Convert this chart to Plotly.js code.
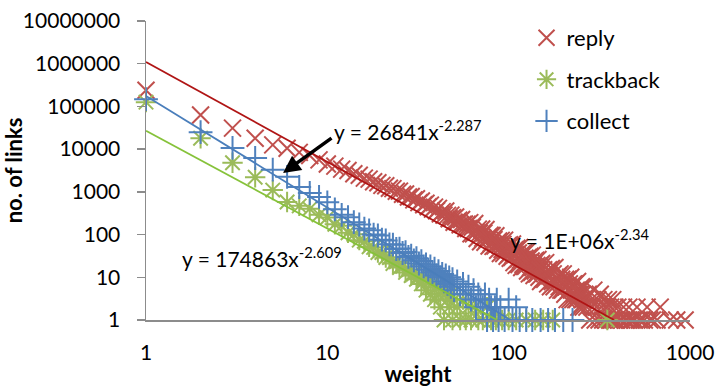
<!DOCTYPE html>
<html><head><meta charset="utf-8">
<script src="https://cdn.plot.ly/plotly-3.0.1.min.js"></script>
<style>html,body{margin:0;padding:0;background:#fff}#chart{width:720px;height:387px}</style>
</head><body><div id="chart"></div>
<script>
// ---- data ----
const seriesNames = ['reply', 'trackback', 'collect'];

const reply_w = [1,2,3,4,5,6,7,8,9,10,11,12,13,14,15,16,17,18,19,20,21,22,23,24,25,26,27,28,29,30,31,32,33,34,35,36,37,38,39,40,
  41,42,43,44,45,46,47,48,49,50,51,52,53,54,55,56,57,58,59,60,
  61,62,63,64,65,66,67,68,69,70,71,72,73,74,75,76,77,78,79,80,81,82,83,84,85,86,87,88,89,90,91,92,93,94,95,96,97,98,99,100,
  101,102,103,104,105,106,107,108,109,110,111,112,113,114,115,116,117,118,119,120,121,122,123,124,125,126,127,128,129,130,
  131,132,133,134,135,136,137,138,139,140,141,142,143,144,145,146,147,148,149,150,
  152,154,156,158,160,162,164,166,168,170,172,174,176,178,180,182,184,186,188,190,192,194,196,198,200,
  202,204,206,208,210,212,214,216,218,220,222,224,226,228,230,232,234,236,238,240,242,244,246,248,250,252,254,256,258,260,
  265,270,275,280,285,290,295,300,305,310,315,320,325,330,335,340,345,350,355,360,365,370,375,380,385,390,400,410,420,
  430,440,450,460,470,480,495,510,525,540,560,580,600,620,658,685,778,845,940];
const reply_n = [240000,63000,31000,18000,12600,10500,8400,7100,5600,4500,4000,3400,3150,2650,2450,2100,1990,1720,1640,1420,1390,1210,1190,1030,1040,880,890,760,780,650,690,560,610,500,540,450,490,395,440,360,
  411,305,345,285,356,281,234,285,249,195,259,200,218,169,226,172,176,139,175,139,
  190,105,149,104,181,114,81,134,108,68,135,82,108,66,132,77,86,54,96,62,95,53,76,54,94,60,43,71,58,36,73,45,59,36,74,42,48,31,55,34,
  58,28,44,29,60,34,22,44,34,19,48,26,37,20,50,25,30,17,36,20,37,18,28,18,39,22,14,29,22,12,
  31,17,24,13,33,17,20,11,24,14,25,12,19,12,26,15,10,19,15,8,
  21,9,15,9,22,11,7,15,11,6,16,8,12,6,17,8,9,5,11,6,12,5,9,5,12,
  6,4,9,6,3,9,5,7,3,10,5,6,3,7,4,7,3,5,3,8,4,2,5,4,2,6,3,4,2,6,
  3,2,4,1,3,2,5,1,2,3,1,4,2,1,3,2,1,2,3,1,2,1,3,1,2,1,2,1,1,
  2,1,1,2,1,1,1,2,1,1,1,2,1,1,1,2,1,1,1];

const trackback_w = [1,2,3,4,5,6,7,8,9,10,11,12,13,14,15,16,17,18,19,20,21,22,23,24,25,26,27,28,29,30,31,32,33,34,35,36,37,38,39,40,
  41,42,43,44,45,46,47,48,49,50,52,54,56,58,60,62,65,68,72,76,80,85,92,100,110,125,140,155,175,350];
const trackback_n = [126000,18000,4800,2200,1100,580,470,400,290,250,175,160,110,102,74,70,52,50,38,38,29,29,21,23,17,18,13,15,11,12,9,11,7,9,5,8,4,7,3,6,
  4,2,5,1,4,3,2,4,1,3,2,1,3,1,2,1,2,1,1,2,1,1,1,1,1,1,1,1,1,1];

const collect_w = [1,2,3,4,5,6,7,8,9,10,11,12,13,14,15,16,17,18,19,20,21,22,23,24,25,26,27,28,29,30,31,32,33,34,35,36,37,38,39,40,
  41,42,43,44,45,46,47,48,49,50,52,54,56,58,60,62,64,66,68,70,72,74,76,78,80,82,84,86,88,90,95,100,105,110,115,125,135,150,165,180,200,225];
const collect_n = [148000,25000,10700,6200,3300,2250,1300,940,760,570,390,290,255,195,172,138,126,100,95,76,73,59,58,46,47,37,39,30,32,25,28,21,24,18,20,15,18,13,16,11,
  14,10,12,8,11,7,10,6,9,5,8,4,7,4,6,3,5,2,4,3,2,4,1,3,2,1,2,3,1,2,1,3,1,2,1,1,1,1,1,1,1,1];

// power-law trend lines y = a * x^b (as printed on / drawn in the chart)
const trendCoef = [1.1e6, 26841, 174863];   // reply, trackback, collect
const trendExp  = [-2.34, -2.287, -2.609];
const trendLabels = ['y = 1E+06x<sup>-2.34</sup>', 'y = 174863x<sup>-2.609</sup>', 'y = 26841x<sup>-2.287</sup>'];

const xTickVals = [1, 10, 100, 1000];
const xTickText = ['1', '10', '100', '1000'];
const yTickVals = [1, 10, 100, 1000, 10000, 100000, 1000000, 10000000];
const yTickText = ['1', '10', '100', '1000', '10000', '100000', '1000000', '10000000'];

// ---- styling ----
const markerColors = ['#C0504D', '#9BBB59', '#4F81BD'];
const lineColors = ['#B01515', '#86C23A', '#4A7EBB'];
const symbols = ['x-thin-open', 'asterisk-open', 'cross-thin-open'];
const sizes = [17, 17, 17];
const xs = [reply_w, trackback_w, collect_w];
const ys = [reply_n, trackback_n, collect_n];

const traces = [];
for (let i = 0; i < 3; i++) {
  traces.push({
    type: 'scatter', mode: 'markers', name: seriesNames[i], x: xs[i], y: ys[i],
    legendgroup: 'g' + i, cliponaxis: false, hoverinfo: 'x+y',
    marker: { symbol: symbols[i], size: sizes[i], color: markerColors[i], line: { color: markerColors[i], width: 2 } }
  });
}
for (let i = 0; i < 3; i++) {
  const a = trendCoef[i], b = trendExp[i];
  const xEnd = Math.pow(a, -1 / b);
  const lx = [1, xEnd];
  const ly = lx.map(v => a * Math.pow(v, b));
  traces.push({
    type: 'scatter', mode: 'lines', x: lx, y: ly, showlegend: false, hoverinfo: 'skip',
    line: { color: lineColors[i], width: 1.8 }
  });
}

const layout = {
  width: 720, height: 387,
  margin: { l: 146, r: 30, t: 21, b: 67 },
  paper_bgcolor: '#ffffff', plot_bgcolor: '#ffffff',
  font: { family: 'Lato, "Open Sans", sans-serif', size: 21, color: '#000' },
  showlegend: true,
  xaxis: {
    type: 'log', range: [0, 3], tickvals: xTickVals, ticktext: xTickText,
    showgrid: false, zeroline: false, showline: true, linecolor: '#8c8c8c', linewidth: 1.5,
    ticks: '', ticklabelstandoff: 13, tickfont: { size: 21 },
    title: { text: '<b>weight</b>', font: { size: 22 }, standoff: 5 }
  },
  yaxis: {
    type: 'log', range: [0, 7], tickvals: yTickVals, ticktext: yTickText,
    showgrid: false, zeroline: false, showline: true, linecolor: '#8c8c8c', linewidth: 1.5,
    ticks: 'outside', ticklen: 8, tickwidth: 1.5, tickcolor: '#8c8c8c', ticklabelstandoff: 12,
    tickfont: { size: 21 },
    title: { text: '<b>no. of links</b>', font: { size: 22 }, standoff: 2 }
  },
  legend: {
    x: 0.6995, xanchor: 'left', y: 1.0137, yanchor: 'top', traceorder: 'grouped', tracegroupgap: 10,
    bgcolor: 'rgba(0,0,0,0)', font: { size: 22 }, itemwidth: 30
  },
  annotations: [
    { xref: 'paper', yref: 'paper', x: 0.665, y: 0.27, xanchor: 'left', yanchor: 'middle', text: trendLabels[0], showarrow: false, font: { size: 21 } },
    { xref: 'paper', yref: 'paper', x: 0.0625, y: 0.21, xanchor: 'left', yanchor: 'middle', text: trendLabels[1], showarrow: false, font: { size: 21 } },
    { xref: 'paper', yref: 'paper', x: 0.342, y: 0.635, xanchor: 'left', yanchor: 'middle', text: trendLabels[2], showarrow: false, font: { size: 21 } },
    { xref: 'paper', yref: 'paper', x: 0.2518, y: 0.4916, text: '', showarrow: true, arrowhead: 2, arrowsize: 1, arrowwidth: 3.5, arrowcolor: '#000', ax: 50, ay: -36 }
  ]
};

Plotly.newPlot('chart', traces, layout, { displayModeBar: false, staticPlot: true });
</script>
</body></html>
